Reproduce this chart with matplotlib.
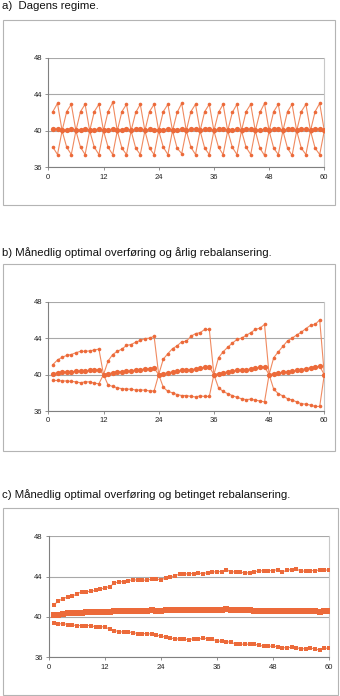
import numpy as np
import matplotlib.pyplot as plt
from matplotlib.patches import Rectangle

plt.rcParams['font.family'] = ['Liberation Sans', 'DejaVu Sans']

W, H = 340, 696
months = np.arange(1, 61)

# panel a: today's regime
up_a = [42.1, 43.0, 40.0, 42.1, 42.9, 40.0, 42.1, 42.9, 40.0, 42.1, 42.9, 40.0,
        42.1, 43.1, 40.0, 42.1, 42.9, 40.0, 42.0, 42.9, 40.0, 42.1, 42.9, 40.0,
        42.1, 42.9, 40.0, 42.0, 43.0, 40.0, 42.1, 42.9, 40.0, 42.1, 42.9, 40.0,
        42.0, 42.9, 40.0, 42.0, 42.9, 40.0, 42.1, 42.9, 40.0, 42.0, 43.0, 40.0,
        42.1, 42.9, 40.0, 42.1, 42.9, 40.0, 42.1, 42.9, 40.0, 42.1, 43.0, 40.0]
mid_a = [40.15, 40.2, 40.05, 40.1, 40.2, 40.05, 40.1, 40.2, 40.05, 40.1, 40.2, 40.05,
         40.1, 40.2, 40.05, 40.1, 40.2, 40.05, 40.15, 40.15, 40.05, 40.15, 40.1, 40.05,
         40.1, 40.2, 40.05, 40.1, 40.2, 40.05, 40.15, 40.2, 40.05, 40.15, 40.2, 40.05,
         40.15, 40.2, 40.05, 40.1, 40.15, 40.05, 40.15, 40.15, 40.05, 40.1, 40.15, 40.05,
         40.15, 40.2, 40.05, 40.15, 40.15, 40.05, 40.15, 40.15, 40.05, 40.15, 40.2, 40.05]
lo_a = [38.2, 37.4, 40.0, 38.2, 37.4, 40.0, 38.2, 37.4, 40.0, 38.2, 37.4, 40.0,
        38.2, 37.4, 40.0, 38.1, 37.4, 40.0, 38.1, 37.4, 40.0, 38.1, 37.4, 40.0,
        38.2, 37.4, 40.0, 38.1, 37.5, 40.0, 38.2, 37.4, 40.0, 38.1, 37.4, 40.0,
        38.2, 37.4, 40.0, 38.2, 37.4, 40.0, 38.2, 37.4, 40.0, 38.1, 37.3, 40.0,
        38.1, 37.4, 40.0, 38.1, 37.3, 40.0, 38.1, 37.4, 40.0, 38.1, 37.4, 40.0]

# panel b: monthly optimal transfer, yearly rebalancing
up_b = [41.1, 41.6, 41.9, 42.1, 42.2, 42.4, 42.55, 42.55, 42.6, 42.7, 42.8, 40.0,
        41.5, 42.2, 42.55, 42.8, 43.2, 43.3, 43.55, 43.75, 43.95, 44.0, 44.2, 40.0,
        41.7, 42.3, 42.85, 43.15, 43.6, 43.65, 44.2, 44.5, 44.6, 44.95, 44.95, 40.0,
        41.85, 42.5, 43.0, 43.45, 43.85, 44.0, 44.3, 44.6, 44.95, 45.1, 45.5, 40.0,
        41.85, 42.5, 43.1, 43.7, 44.0, 44.35, 44.65, 45.05, 45.4, 45.5, 46.0, 40.0]
mid_b = [40.1, 40.2, 40.25, 40.3, 40.3, 40.35, 40.4, 40.4, 40.45, 40.5, 40.55, 40.0,
         40.1, 40.2, 40.3, 40.3, 40.35, 40.4, 40.5, 40.55, 40.6, 40.65, 40.7, 40.0,
         40.1, 40.2, 40.3, 40.35, 40.45, 40.5, 40.55, 40.6, 40.7, 40.8, 40.85, 40.0,
         40.1, 40.2, 40.3, 40.35, 40.45, 40.5, 40.55, 40.6, 40.7, 40.8, 40.85, 40.0,
         40.1, 40.15, 40.25, 40.3, 40.35, 40.45, 40.55, 40.65, 40.75, 40.85, 40.9, 40.0]
lo_b = [39.35, 39.35, 39.3, 39.3, 39.25, 39.2, 39.1, 39.2, 39.2, 39.05, 39.0, 40.0,
        38.85, 38.7, 38.55, 38.45, 38.4, 38.4, 38.3, 38.3, 38.3, 38.2, 38.2, 40.0,
        38.6, 38.15, 38.0, 37.8, 37.7, 37.7, 37.6, 37.55, 37.65, 37.6, 37.6, 40.0,
        38.55, 38.15, 37.9, 37.7, 37.5, 37.35, 37.25, 37.3, 37.2, 37.1, 37.0, 40.0,
        38.4, 37.9, 37.65, 37.35, 37.2, 37.0, 36.8, 36.75, 36.65, 36.5, 36.5, 40.0]

# panel c: monthly optimal transfer, conditional rebalancing
up_c = [41.15, 41.6, 41.8, 42.0, 42.05, 42.3, 42.5, 42.5, 42.55, 42.65, 42.75, 42.9,
        43.0, 43.35, 43.5, 43.5, 43.6, 43.7, 43.65, 43.65, 43.65, 43.75, 43.75, 43.7,
        43.85, 43.95, 44.1, 44.25, 44.25, 44.3, 44.3, 44.35, 44.3, 44.4, 44.45, 44.5,
        44.5, 44.7, 44.45, 44.5, 44.45, 44.35, 44.4, 44.5, 44.55, 44.6, 44.6, 44.6,
        44.7, 44.45, 44.65, 44.7, 44.75, 44.55, 44.55, 44.6, 44.6, 44.65, 44.65, 44.65]
mid_c = [40.2, 40.2, 40.25, 40.35, 40.35, 40.4, 40.4, 40.45, 40.45, 40.45, 40.5, 40.5,
         40.5, 40.55, 40.55, 40.6, 40.6, 40.6, 40.6, 40.6, 40.6, 40.65, 40.6, 40.6,
         40.65, 40.65, 40.65, 40.65, 40.65, 40.65, 40.65, 40.7, 40.65, 40.65, 40.65, 40.65,
         40.65, 40.75, 40.65, 40.65, 40.65, 40.65, 40.65, 40.6, 40.6, 40.6, 40.6, 40.6,
         40.6, 40.6, 40.6, 40.6, 40.6, 40.55, 40.6, 40.6, 40.6, 40.5, 40.6, 40.6]
lo_c = [39.45, 39.3, 39.35, 39.25, 39.2, 39.15, 39.15, 39.15, 39.15, 39.0, 39.05, 39.0,
        38.8, 38.65, 38.55, 38.5, 38.5, 38.45, 38.35, 38.35, 38.35, 38.3, 38.2, 38.1,
        38.0, 37.9, 37.85, 37.8, 37.8, 37.75, 37.85, 37.8, 37.9, 37.85, 37.8, 37.6,
        37.6, 37.55, 37.5, 37.3, 37.3, 37.3, 37.3, 37.3, 37.2, 37.1, 37.1, 37.1,
        37.05, 36.95, 36.95, 37.0, 36.95, 36.85, 36.85, 36.9, 36.85, 36.7, 36.9, 36.9]

titles = ['a)  Dagens regime.',
          'b) Månedlig optimal overføring og årlig rebalansering.',
          'c) Månedlig optimal overføring og betinget rebalansering.']

# pixel layout: (title_y, frame box, axes box)
layout = [
    (6, (3, 20, 335, 205), (48.3, 57.7, 324.3, 167.3)),
    (253, (3, 264, 335, 451), (48.3, 301.7, 324.3, 411)),
    (495, (3, 508, 338, 695), (49, 536.3, 329, 657.3)),
]
panels = [(up_a, mid_a, lo_a, 'o'), (up_b, mid_b, lo_b, 'o'), (up_c, mid_c, lo_c, 's')]

col = '#ec6a3a'
linecol = '#f08a60'

fig = plt.figure(figsize=(W / 100, H / 100), dpi=100)

for (ty, fr, ab), (up, mid, lo, mk), title in zip(layout, panels, titles):
    fig.text(2 / W, 1 - ty / H, title, fontsize=8.2, va='center', ha='left', color='#111111')
    x0, y0, x1, y1 = fr
    fig.add_artist(Rectangle((x0 / W, 1 - y1 / H), (x1 - x0) / W, (y1 - y0) / H,
                             transform=fig.transFigure, fill=False,
                             edgecolor='#b4b4b4', linewidth=0.8))
    l, t, r, b = ab
    ax = fig.add_axes([l / W, 1 - b / H, (r - l) / W, (b - t) / H])
    for s, ms in [(up, 2.6), (lo, 2.6), (mid, 3.8)]:
        ax.plot(months, s, color=linecol, linewidth=0.8, zorder=3)
        ax.plot(months, s, linestyle='none', marker=mk, markersize=ms,
                color=col, markeredgewidth=0, zorder=4)
    ax.set_xlim(0, 60)
    ax.set_ylim(36, 48)
    ax.set_xticks(range(0, 61, 12))
    ax.set_yticks([36, 40, 44, 48])
    ax.grid(axis='y', color='#a8a8a8', linewidth=0.8)
    ax.set_axisbelow(True)
    for side in ['left', 'bottom']:
        ax.spines[side].set_color('#808080')
        ax.spines[side].set_linewidth(0.8)
    ax.spines['top'].set_visible(False)
    ax.spines['right'].set_color('#c8c8c8')
    ax.spines['right'].set_linewidth(0.8)
    ax.tick_params(labelsize=5.5, colors='#808080', labelcolor='#222222',
                   length=2.5, width=0.6, pad=2)

fig.savefig('out.png', dpi=100)
